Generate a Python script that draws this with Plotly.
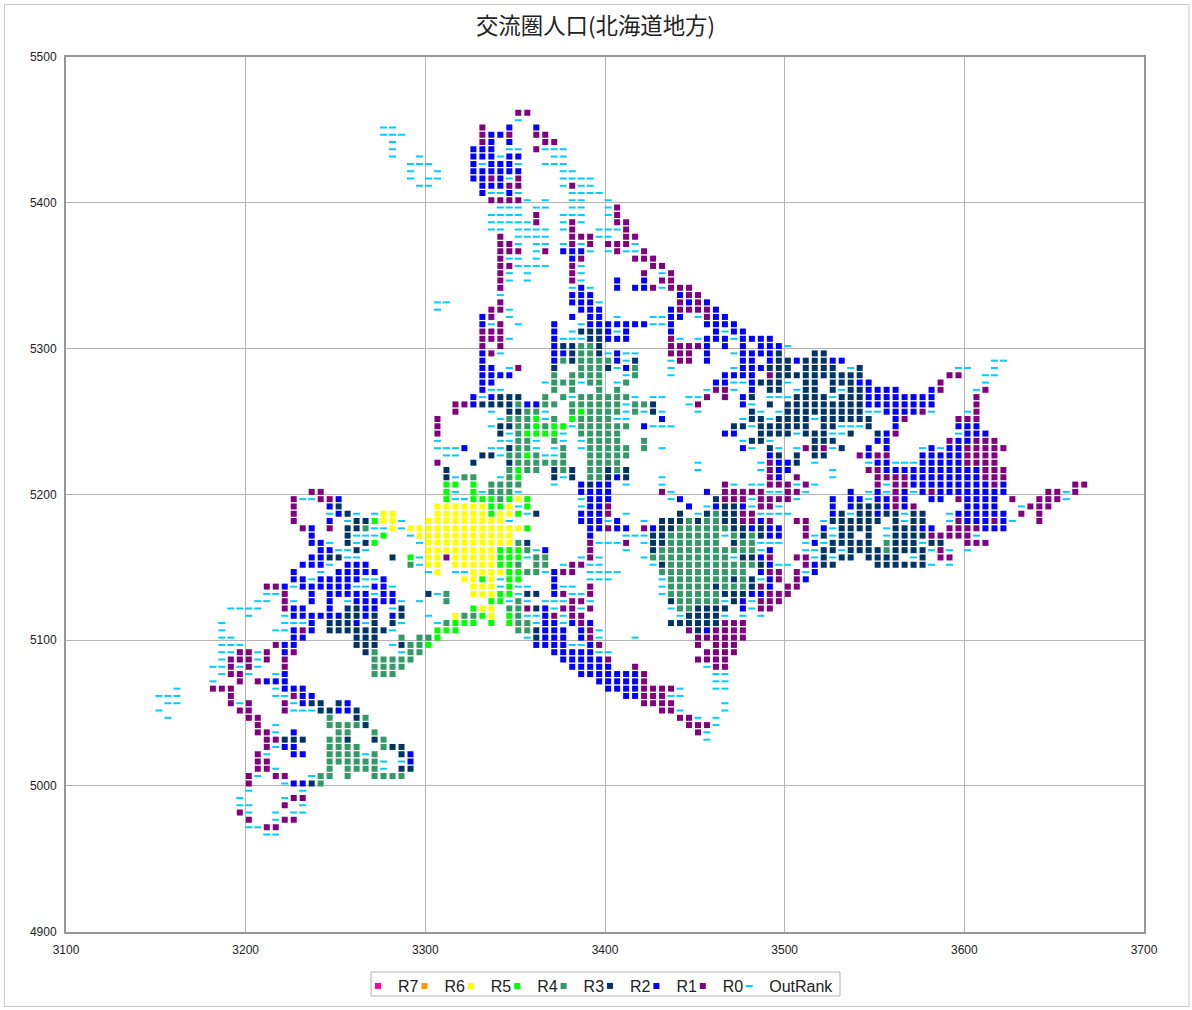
import plotly.graph_objects as go

TITLE = "交流圏人口(北海道地方)"
SERIES = ["R7", "R6", "R5", "R4", "R3", "R2", "R1", "R0", "OutRank"]
CODES = ["7", "6", "5", "4", "3", "2", "1", "0", "-"]
COLORS = ["#FF0099", "#FF9900", "#FFFF00", "#00FF00", "#339966", "#003366", "#0000FF", "#800080", "#00CCFF"]
X_TICKS = [3100, 3200, 3300, 3400, 3500, 3600, 3700]
Y_TICKS = [4900, 5000, 5100, 5200, 5300, 5400, 5500]
MESH_X0, MESH_Y0, MESH_STEP = 3151.75, 5461.67, 5

# one string per mesh row (north to south): "column:rank codes"
ROWS_NORTH = [
"40:00","40:-","25:-- 36:0 39:1 42:1","25:--- 36:0110 42:00","26:- 36:01 39:1 43:00",
"26:- 35:111 39:-- 42:0---","26:- 29:- 35:111-11 44:--","28:--- 35:1-111- 43:---",
"28:- 31:- 35:111111 45:--","28:- 30:-- 35:1101-0 45:----","29:-- 36:11100 45:-0--",
"36:1--1- 46:----","37:0000- 43:- 46:-- 50:-","38:--- 42:-- 46:-- 50:-0",
"37:---- 42:0 45:--- 50:-0","37:-----0 45:-0- 51:00","37:-- 40:---- 45:-0 49:---0",
"38:0 40:---- 46:000-- 52:00","38:00- 42:-- 45:-0-0 50:000-","38:000 42:-0 45:111- 50:-0--0",
"38:0-- 42:- 46:10 53:000","38:00---- 46:0- 55:00","38:0- 41:- 46:0- 54:0 56:-0",
"38:0- 41:- 46:0- 51:1 54:1 56:00","38:0 46:-1- 51:1 53:110-000","38:- 46:111 58:100",
"31:-- 38:0 46:111- 58:0101","31:- 37:00- 47:111 57:100001",
"36:10 39:- 46:1 48:11 51:- 55:--11 60:-011","36:1-0 40:- 44:1 47:-1111111 55:--1 61:1111",
"36:000 44:1 46:-2221-1 57:1 62:1-11","36:000- 44:1--- 48:22111 57:0- 60:-111-1111",
"36:0 38:0 44:122332 57:00001 63:1 65:1 67:111-",
"36:10- 44:112332-1-- 57:000 61:1 64:-11 67:112 73:22",
]
ROWS_CENTRE = [
"36:1 44:13233331-2 57:-00 61:1 65:11 68:122122211 93:--",
"36:11 39:-0 44:2 47:3332-13 57:- 64:-111222 72:2222 77:-2 89:-- 93:-",
"36:1111 44:3 46:3333 52:-3 57:- 63:1111 68:02222222222 88:00 92:--",
"36:11 43:-333-33 51:-3 62:11--1222- 72:22 75:22211 87:0 92:-",
"36:1-- 44:3 46:3 49:3 51:3 61:-00- 66:1 68:22 71:-22 75:2-221111 86:10 91:-0",
"35:1-1222 43:3 45:3- 47:333333- 55:-- 59:--0 63:0 65:12 68:---2222-22211111111 91:0",
"33:001222231133 46:333333-332 59:-0 65:1- 68:2 70:222222222 79:11111111 91:0",
"33:0 37:- 39:2233- 46:343333-3-2- 60:- 66:2- 69:-222222222--11110- 90:-0",
"31:0 38:-3334-3 46:43333-- 56:1 65:-22-2222-222222 82:10 89:000",
"31:0 37:-22334344- 47:333333 54:1--- 64:22- 67:222222 74:22--- 79:2 82:1 89:111",
"31:0 38:2-34444- 47:33333 63:11 67:2222-222--2 80:210 89:-111",
"31:- 38:--33- 44:3- 47:-3333 54:3 65:-22- 73:222 80:11 88:011000",
"31:---1 37:--233- 44:-3 47:-33333 54:3 56:- 65:1- 68:2- 71:-020-2 79:1 81:1 85:-1-1100000",
"32:-- 36:22-3343--3 48:33333 68:12 71:2 73:22 78:0100 85:111110000",
"31:0 35:2 39:2333333 48:3333 60:- 67:-0112 73:- 79:-11--- 85:111110000",
"32:2 39:3433 44:232 48:33232 60:- 67:-011 75:- 79:0011111111111000",
"32:2-33 38:-34 44:2-2 48:33212 56:- 68:01 71:0 75:- 80:000011111111000",
"32:44 35:4 37:3333 44:- 47:1211 52:- 56:- 63:0- 66:--000-0- 80:0-0011111111101 102:00",
"17:00 32:4- 35:4-333- 47:1111 56:0- 61:1 63:00000--00- 77:1 79:-1-01-1011111111 99:00-0",
"15:0--001 32:4--4443454 47:-111 57:-1 62:2000-0000- 75:1 77:11-1101 86:11 89:01111 95:0 98:000-",
"15:0 19:12 31:555555445-4 47:-110 59:1 61:-1221-00- 75:1 77:12221010 90:1111 96:-000",
"15:0 19:-12- 24:-55 31:5555554554-2 47:1110 52:- 58:2 60:-232200---- 75:12-22122-22 88:-111111 96:0 98:0",
"15:0 19:1 21:-22455- 30:555555555- 47:111-1 54:- 56:2223233220010 71:00 74:-222222 82:2- 84:22 88:-011101- 98:0",
"16:01 19:0 21:223--5- 28:55555555555554 48:11011 54:0122333333221211 72:0 74:1-2222 81:-22211 88:0000111",
"17:1 21:2---4 28:-5 30:5555555555 48:1 52:--- 55:22333333-323211 72:0-2-22 79:2 81:-2222 86:00000-",
"17:11- 21:2-24 29:-5555555555 40:32 48:0---0 54:-22333333 64:233--- 72:-1-22222 81:3222- 86:22 90:000",
"18:11--2- 30:55555555 38:4443-1 48:0 52:- 55:233333333333-1 72:--22-222232222-0- 90:-",
"17:1122-- 26:2 28:4-55055555 38:444-33 47:-0- 54:-333333333-2210 71:00-2-22 79:2222 84:-2 87:00",
"16:111- 21:111 28:3-55 33:55555 38:443 42:33 45:-00-- 55:-23333333333 67:21-- 72:0122 80:222222- 88:-",
"15:1 18:- 20:11111 30:-5 33:--5555 39:4433-100 48:---- 56:3333333333 67:100 71:0-1",
"15:11-11111--1 34:5545-44 44:1 48:--- 56:-3333333232-10 71:01",
"12:001-111111--11- 35:555-4-- 44:1-- 48:0 56:-333332333201 70:00",
"12:--0 17:1 19:11111-11 30:2-3 35:55544-22 44:10--0 56:-33333322211000",
]
ROWS_SOUTH = [
"11:-- 14:0- 17:1 19:1 21:-11111- 29:- 32:3 37:44-3- 43:---00- 57:233333-21-000",
"8:---- 14:011 19:1 21:2211 26:-2 35:455 39:3302 43:1-00-0 57:-332222 65:1-00",
"10:- 14:-111111 21:2212 26:12 30:- 33:53345 39:43--10-00 58:-2222- 65:- 67:-",
"7:- 14:---1 19:2221-2 26:2- 31:-3444 37:4 39:433-11-101 57:222222000",
"7:- 13:--101 19:2222222- 31:444 40:33 42:2111 47:10- 59:0210000",
"7:-- 15:11 22:222 27:3 29:334 41:-2111 47:10- 53:- 60:000000",
"7:--- 13:011 22:222 26:-2334 42:1111 46:--10 60:0 62:000",
"7:--00-0 14:10 23:23 27:-33 44:11111-- 61:0000",
"7:-000-0 14:0 24:33333 45:111110 60:0000",
"6:--0-0- 14:0 24:3333 46:11111 53:0 61:-00",
"7:-00- 13:-1 24:333 47:1111111 54:0 62:--",
"6:- 9:0 11:0111 49:11111 54:0 62:--",
"2:- 6:000 13:-111 50:1111 54:0000- 62:--",
"0:--- 8:0 13:--011 52:11 54:000--",
"1:-- 8:0-0 14:0-122 20:21 54:0000 63:-",
"0:- 9:00 14:0--- 18:22112 56:00- 63:-",
"1:- 10:00 19:3 22:23 58:00- 62:-",
"11:0 13:- 19:33332 59:000 62:-",
"11:00- 15:1 20:33 24:3 60:0-",
"12:00222 19:332 24:23 61:-",
"12:0-11 19:3333 25:322",
"11:0- 15:11 19:3333-3 27:21",
"11:00 19:333333- 27:-1",
"11:00- 19:3 21:3333- 27:22",
"10:0- 13:00 17:-33 21:3 24:3333",
"10:0 14:-1123",
"10:- 16:-",
"9:- 14:-00",
"9:-- 14:0 16:-",
"9:0- 13:- 15:--",
"10:0 13:-00",
"10:--00",
"12:--",
]

rows = ROWS_NORTH + ROWS_CENTRE + ROWS_SOUTH
cells = {}
for r, text in enumerate(rows):
    for seg in text.split():
        start, codes = seg.split(":")
        for i, code in enumerate(codes):
            cells[(r, int(start) + i)] = code

L, R, T, B = 66, 1144, 56.67, 933
W, H = 1192, 1010
fig = go.Figure()
legend_layout = {}
legend_font = dict(family="Liberation Sans", size=16, color="#222222")
for i, (name, code, color) in enumerate(zip(SERIES, CODES, COLORS)):
    pts = [k for k, v in cells.items() if v == code]
    xs = [MESH_X0 + MESH_STEP * c for r, c in pts] or [None]
    ys = [MESH_Y0 - MESH_STEP * r for r, c in pts] or [None]
    if code == "-":
        marker = dict(symbol="line-ew", size=5, color=color, line=dict(color=color, width=2))
    else:
        marker = dict(symbol="square", size=6, color=color, line=dict(width=0))
    legend_id = "legend" if i == 0 else f"legend{i + 1}"
    fig.add_trace(go.Scatter(x=xs, y=ys, mode="markers", name=name, marker=marker,
                             legend=legend_id, showlegend=True))
    legend_layout[legend_id] = dict(
        orientation="h", xref="container", yref="container", xanchor="left", visible=True,
        x=(358 + 46.4 * i) / W, y=1 - 986 / H, yanchor="middle",
        bgcolor="rgba(0,0,0,0)", itemclick=False, font=legend_font)

axis = dict(showgrid=True, gridcolor="#B4B4B4", gridwidth=1, zeroline=False, showline=True,
            linecolor="#969696", linewidth=2, mirror=True, ticks="outside",
            tickcolor="rgba(0,0,0,0)",
            tickfont=dict(family="Liberation Sans", size=12, color="#222222"))
fig.update_layout(
    width=W, height=H, paper_bgcolor="white", plot_bgcolor="white", showlegend=True,
    margin=dict(l=L, r=W - R, t=T, b=H - B, pad=0),
    title=dict(text=TITLE, x=595.5 / W, xanchor="center", y=1 - 26 / H, yanchor="middle",
               font=dict(family="Noto Sans CJK JP", size=22.4, color="#222222")),
    xaxis=dict(axis, range=[3100, 3700], tickvals=X_TICKS, ticktext=[str(v) for v in X_TICKS], ticklen=6),
    yaxis=dict(axis, range=[4900, 5500], tickvals=Y_TICKS, ticktext=[str(v) for v in Y_TICKS], ticklen=5),
    shapes=[
        dict(type="rect", xref="paper", yref="paper",
             x0=(4.5 - L) / (R - L), x1=(1189 - L) / (R - L),
             y0=(B - 1008) / (B - T), y1=(B - 4) / (B - T),
             line=dict(color="#C8C8C8", width=1), layer="below"),
        dict(type="rect", xref="paper", yref="paper",
             x0=(371 - L) / (R - L), x1=(840 - L) / (R - L),
             y0=(B - 997.5) / (B - T), y1=(B - 973.5) / (B - T),
             line=dict(color="#B4B4B4", width=1), layer="below"),
    ],
    **legend_layout,
)
fig.write_html("out.html", config={"displayModeBar": False},
               post_script="document.body.style.margin='0';")
